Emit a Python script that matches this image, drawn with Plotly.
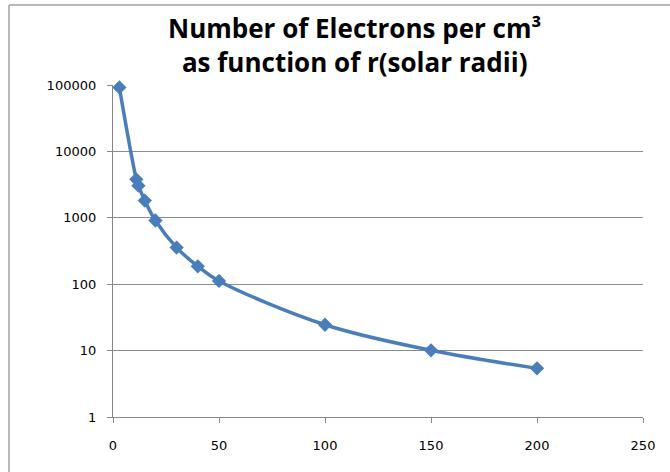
import plotly.graph_objects as go

r_solar = [3, 11, 12, 15, 20, 30, 40, 50, 100, 150, 200]
electrons = [92000, 3800, 3050, 1820, 910, 356, 186, 112, 24.5, 10.1, 5.4]

y_tickvals = [1, 10, 100, 1000, 10000, 100000]
y_ticktext = ["1", "10", "100", "1000", "10000", "100000"]
x_tickvals = [0, 50, 100, 150, 200, 250]

title_lines = ["Number of Electrons per cm³", "as function of r(solar radii)"]

W, H = 670, 472
L, R, T, B = 113, 27, 85, 55
pw, ph = W - L - R, H - T - B

def px_x(p):
    return (p - L) / pw

def px_y(p):
    return (H - B - p) / ph

blue = "#4a7ebb"
fig = go.Figure()
fig.add_trace(go.Scatter(
    x=r_solar, y=electrons, mode="lines+markers",
    line=dict(color=blue, width=3.5, shape="spline", smoothing=1),
    marker=dict(symbol="diamond", size=11, color=blue),
    showlegend=False, cliponaxis=False,
))

axis_col = "#868686"
title_font = dict(family="Open Sans", size=26, color="#000000", weight="bold")
fig.update_layout(
    width=W, height=H,
    margin=dict(l=L, r=R, t=T, b=B),
    paper_bgcolor="white", plot_bgcolor="white",
    font=dict(family="DejaVu Sans", size=13, color="#000000"),
    xaxis=dict(range=[0, 250], tickvals=x_tickvals, showgrid=False, zeroline=False,
               showline=True, linecolor=axis_col, linewidth=1.3,
               ticks="outside", ticklen=5, tickcolor=axis_col, tickwidth=1.3,
               ticklabelstandoff=11),
    yaxis=dict(type="log", range=[0, 5], tickvals=y_tickvals, ticktext=y_ticktext,
               showgrid=True, gridcolor="#8c8c8c", gridwidth=1, zeroline=False,
               showline=True, linecolor=axis_col, linewidth=1.3,
               ticks="outside", ticklen=5, tickcolor=axis_col, tickwidth=1.3,
               ticklabelstandoff=8),
    annotations=[
        dict(text="<br>".join(title_lines), xref="paper", yref="paper",
             x=px_x(354), y=px_y(45), xanchor="center", yanchor="middle",
             showarrow=False, font=title_font),
    ],
    shapes=[
        dict(type="line", xref="paper", yref="paper", x0=px_x(9), x1=px_x(675),
             y0=px_y(5), y1=px_y(5), line=dict(color="#a0a0a0", width=1.5)),
        dict(type="line", xref="paper", yref="paper", x0=px_x(9), x1=px_x(9),
             y0=px_y(5), y1=px_y(480), line=dict(color="#a0a0a0", width=1.5)),
    ],
)
fig.write_html("out.html", config={"displayModeBar": False},
               post_script="document.body.style.margin='0';document.body.style.overflow='hidden';")
